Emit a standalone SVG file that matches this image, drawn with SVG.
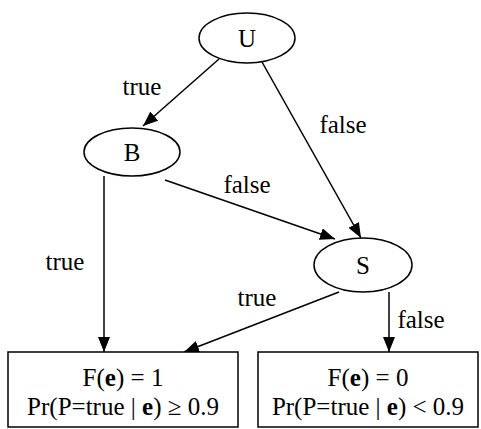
<svg xmlns="http://www.w3.org/2000/svg" width="481" height="429" viewBox="0 0 481 429">
<style>
text{font-family:"Liberation Serif","Times New Roman",serif;font-size:25px;fill:#000;text-anchor:middle}
.n{fill:#fff;stroke:#000;stroke-width:1.5}
.e{fill:none;stroke:#000;stroke-width:1.5;marker-end:url(#a)}
</style>
<defs>
<marker id="a" viewBox="0 0 15 12" refX="15" refY="6" markerWidth="15" markerHeight="12" markerUnits="userSpaceOnUse" orient="auto">
<path d="M0,0L15,6L0,12z" fill="#000"/>
</marker>
</defs>
<rect width="481" height="429" fill="#fff"/>
<g id="edges">
<line class="e" x1="219" y1="59" x2="143" y2="126"/>
<line class="e" x1="262" y1="62" x2="361" y2="238"/>
<line class="e" x1="165" y1="180" x2="335" y2="239"/>
<line class="e" x1="104" y1="176" x2="104" y2="352"/>
<line class="e" x1="339" y1="292" x2="184" y2="352"/>
<line class="e" x1="389" y1="292" x2="389" y2="352"/>
<text x="142" y="95">true</text>
<text x="343" y="133">false</text>
<text x="247" y="193">false</text>
<text x="65" y="270">true</text>
<text x="257" y="306">true</text>
<text x="421" y="328">false</text>
</g>
<g id="U"><ellipse class="n" cx="247" cy="38" rx="48" ry="25"/><text x="247" y="47">U</text></g>
<g id="B"><ellipse class="n" cx="132" cy="152" rx="48" ry="24"/><text x="132" y="161">B</text></g>
<g id="S"><ellipse class="n" cx="363" cy="265" rx="49" ry="27"/><text x="363" y="274">S</text></g>
<g id="F1"><rect class="n" x="8" y="352" width="230" height="75"/>
<text x="123" y="386">F(<tspan font-weight="bold">e</tspan>) = 1</text>
<text x="123" y="415">Pr(P=true | <tspan font-weight="bold">e</tspan>) ≥ 0.9</text></g>
<g id="F0"><rect class="n" x="258" y="352" width="220" height="75"/>
<text x="368" y="386">F(<tspan font-weight="bold">e</tspan>) = 0</text>
<text x="368" y="415">Pr(P=true | <tspan font-weight="bold">e</tspan>) &lt; 0.9</text></g>
</svg>
